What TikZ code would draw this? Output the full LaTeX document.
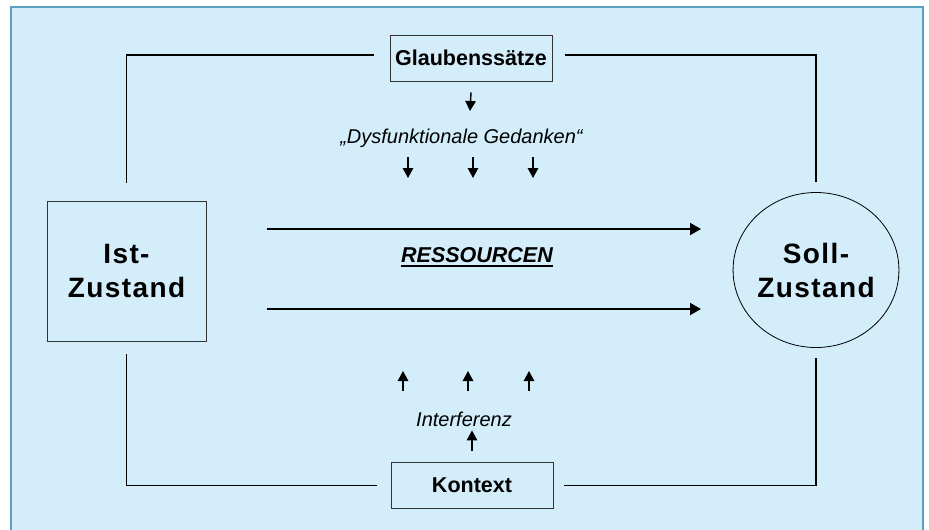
\documentclass[tikz,border=0pt]{standalone}
\usepackage{fontspec}
\setmainfont{Liberation Sans}
\newfontfamily\spacedfont[LetterSpace=5]{Liberation Sans}
\usetikzlibrary{shapes.geometric,arrows.meta}

\definecolor{panelblue}{RGB}{211,238,250}
\definecolor{frameblue}{RGB}{90,160,192}

\tikzset{
  statebox/.style={draw=black!80, line width=0.9pt, inner sep=0pt,
    minimum width=159pt, minimum height=140pt, align=center,
    font=\spacedfont\bfseries\fontsize{28}{34}\selectfont},
  goalellipse/.style={ellipse, draw=black, line width=0.8pt, inner sep=0pt,
    minimum width=165pt, minimum height=155pt, align=center,
    font=\spacedfont\bfseries\fontsize{28}{34}\selectfont},
  labelbox/.style={draw=black!80, line width=0.9pt, inner sep=0pt,
    minimum width=162pt, minimum height=46pt,
    font=\bfseries\fontsize{21.5}{24}\selectfont},
  thought/.style={inner sep=0pt, font=\itshape\fontsize{20}{24}\selectfont},
  link/.style={line width=1.8pt},
  flow/.style={-{Triangle[length=11pt,width=12pt]}, line width=1.8pt},
  nudge/.style={-{Triangle[length=10pt,width=10.5pt]}, line width=1.4pt}
}

\begin{document}
\begin{tikzpicture}[x=1pt,y=-1pt]

	%Canvas 929 x 530, origin top left
	\useasboundingbox (0,0) rectangle (929,530);
	\clip (0,0) rectangle (929,530);
	\fill[white] (0,0) rectangle (929,530);
	\fill[panelblue] (11,7) rectangle (923,540);
	\draw[frameblue, line width=2.5pt] (11,540) -- (11,7) -- (923,7) -- (923,540);

	%The two states
	\node[statebox] (ist) at (126.5,271) {Ist-\\Zustand};
	\node[goalellipse] (soll) at (816,270) {Soll-\\Zustand};

	%Beliefs on top, context below
	\node[labelbox] (glaube) at (471,58) {Glaubenssätze};
	\node[labelbox] (kontext) at (472,485.5) {Kontext};

	%Frame lines between the boxes
	\draw[link] ([yshift=18pt]ist.north) |- ([xshift=-16pt,yshift=3pt]glaube.west);
	\draw[link] ([xshift=13pt,yshift=3pt]glaube.east) -| ([yshift=10pt]soll.north);
	\draw[link] ([yshift=-13pt]ist.south) |- ([xshift=-14pt]kontext.west);
	\draw[link] ([xshift=11pt]kontext.east) -| ([yshift=-10pt]soll.south);

	%Resources between Ist and Soll
	\coordinate (ressA) at (267,229);
	\coordinate (ressB) at (701,229);
	\coordinate (ressC) at (267,309);
	\coordinate (ressD) at (701,309);
	\draw[flow] (ressA) -- (ressB);
	\draw[flow] (ressC) -- (ressD);
	\node[inner sep=0pt, anchor=base, font=\bfseries\itshape\fontsize{21.5}{24}\selectfont] (ress) at (477,262) {RESSOURCEN};
	\draw[line width=1.8pt] ([yshift=-3.8pt]ress.base west) -- ([yshift=-3.8pt]ress.base east);

	%Dysfunctional thoughts pushing down
	\node[thought, anchor=base] (dysf) at (461.5,143) {„Dysfunktionale Gedanken“};
	\coordinate (gl) at (470,111);
	\draw[nudge] ([yshift=-11pt]glaube.south) -- (gl);
	\foreach \x in {408,473,533}{
		\coordinate (dtop\x) at (\x,157);
		\coordinate (dbot\x) at (\x,178);
		\draw[nudge] (dtop\x) -- (dbot\x);
	}

	%Interference pushing up
	\node[thought, anchor=base] (interf) at (464,426) {Interferenz};
	\coordinate (ko) at (472,451);
	\draw[nudge] (ko) -- ([yshift=-4pt]interf.south -| ko);
	\foreach \x in {403,468,529}{
		\coordinate (ubot\x) at (\x,391);
		\coordinate (utop\x) at (\x,371);
		\draw[nudge] (ubot\x) -- (utop\x);
	}

\end{tikzpicture}
\end{document}
